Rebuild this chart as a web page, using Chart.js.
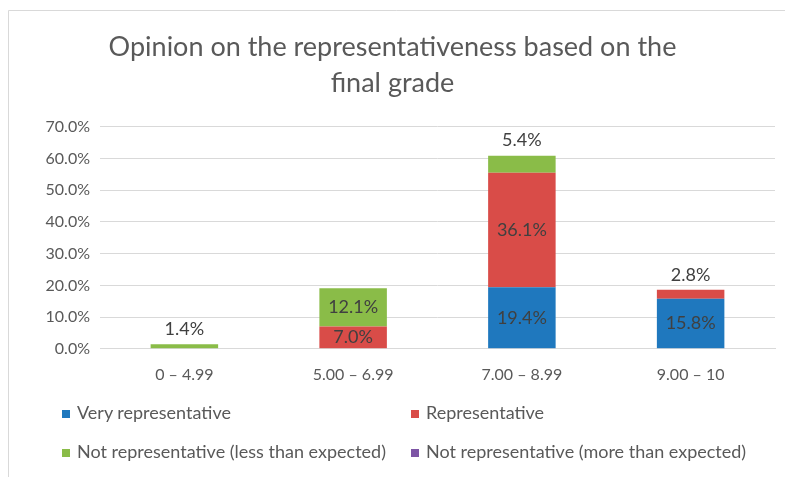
<!DOCTYPE html>
<html>
<head>
<meta charset="utf-8">
<script src="https://cdn.jsdelivr.net/npm/chart.js@4/dist/chart.umd.min.js"></script>
<style>
  html, body { margin: 0; padding: 0; background: #fff; }
  #wrap { position: relative; width: 785px; height: 477px; overflow: hidden; }
  #chart { position: absolute; left: 0; top: 0; }
  .legend { position: absolute; font-family: Lato, sans-serif; font-size: 18px; color: #595959; white-space: nowrap; }
  .legend span.sw { display: inline-block; width: 8px; height: 8px; margin-right: 7px; vertical-align: 1px; }
</style>
</head>
<body>
<div id="wrap">
  <canvas id="chart" width="785" height="477"></canvas>
  <div class="legend" style="left:62px; top:401px;"><span class="sw" style="background:#1f78be"></span>Very representative</div>
  <div class="legend" style="left:411px; top:401px;"><span class="sw" style="background:#d94c48"></span>Representative</div>
  <div class="legend" style="left:62px; top:440px;"><span class="sw" style="background:#8abc48"></span>Not representative (less than expected)</div>
  <div class="legend" style="left:411px; top:440px;"><span class="sw" style="background:#7d55a5"></span>Not representative (more than expected)</div>
</div>
<script>
    // Данные графика
    const categories = ['0 – 4.99', '5.00 – 6.99', '7.00 – 8.99', '9.00 – 10'];
    const seriesNames = [
        'Very representative',
        'Representative',
        'Not representative (less than expected)',
        'Not representative (more than expected)'
    ];
    const veryRepresentative = [0, 0, 19.4, 15.8];
    const representative = [0, 7.0, 36.1, 2.8];
    const notRepLess = [1.4, 12.1, 5.4, 0];
    const notRepMore = [0, 0, 0, 0];
    const yTicks = [0, 10, 20, 30, 40, 50, 60, 70];

    const colors = ['#1f78be', '#d94c48', '#8abc48', '#7d55a5'];

    // Рамка вокруг диаграммы
    const borderPlugin = {
        id: 'frame',
        beforeDraw(chart) {
            const ctx = chart.ctx;
            ctx.save();
            ctx.fillStyle = '#fff';
            ctx.fillRect(0, 0, chart.width, chart.height);
            ctx.strokeStyle = '#d9d9d9';
            ctx.lineWidth = 1;
            ctx.beginPath();
            ctx.moveTo(8.5, chart.height);
            ctx.lineTo(8.5, 10.5);
            ctx.lineTo(chart.width, 10.5);
            ctx.stroke();
            ctx.restore();
        }
    };

    // Подписи значений: внутри столбца, если он достаточно высокий, иначе над стопкой
    const labelPlugin = {
        id: 'valueLabels',
        afterDatasetsDraw(chart) {
            const ctx = chart.ctx;
            const yScale = chart.scales.y;
            ctx.save();
            ctx.font = '18px Lato, sans-serif';
            ctx.fillStyle = '#404040';
            ctx.textAlign = 'center';
            ctx.textBaseline = 'middle';
            chart.data.datasets.forEach((ds, di) => {
                const meta = chart.getDatasetMeta(di);
                meta.data.forEach((bar, i) => {
                    const v = ds.data[i];
                    if (!v) return;
                    if (v >= 6) {
                        ctx.fillText(v.toFixed(1) + '%', bar.x, (bar.y + bar.base) / 2);
                    } else {
                        let total = 0;
                        chart.data.datasets.forEach(d => total += d.data[i]);
                        ctx.fillText(v.toFixed(1) + '%', bar.x, yScale.getPixelForValue(total) - 15);
                    }
                });
            });
            ctx.restore();
        }
    };

    const seriesData = [veryRepresentative, representative, notRepLess, notRepMore];

    new Chart(document.getElementById('chart').getContext('2d'), {
        type: 'bar',
        data: {
            labels: categories,
            datasets: seriesNames.map((name, i) => ({
                label: name,
                data: seriesData[i],
                backgroundColor: colors[i],
                borderWidth: 0,
                categoryPercentage: 1,
                barPercentage: 0.4
            }))
        },
        options: {
            responsive: false,
            animation: false,
            devicePixelRatio: 1,
            layout: { padding: { top: 10, left: 10, right: 10, bottom: 77 } },
            plugins: {
                legend: { display: false },
                tooltip: { enabled: false },
                title: {
                    display: true,
                    text: ['Opinion on the representativeness based on the', 'final grade'],
                    color: '#595959',
                    font: { family: 'Lato, sans-serif', size: 27, weight: 'normal', lineHeight: 1.33 },
                    padding: { top: 19, bottom: 26 }
                }
            },
            scales: {
                x: {
                    stacked: true,
                    grid: { display: false, drawTicks: false },
                    border: { display: true, color: '#d9d9d9' },
                    ticks: { color: '#595959', font: { family: 'Lato, sans-serif', size: 16 }, padding: 16 }
                },
                y: {
                    stacked: true,
                    min: 0,
                    max: 70,
                    afterFit(scale) { scale.width = 90; },
                    afterBuildTicks(scale) { scale.ticks = yTicks.map(v => ({ value: v })); },
                    grid: { color: '#d9d9d9', drawTicks: false },
                    border: { display: false },
                    ticks: {
                        color: '#595959',
                        font: { family: 'Lato, sans-serif', size: 16 },
                        padding: 10,
                        callback: v => v.toFixed(1) + '%'
                    }
                }
            }
        },
        plugins: [borderPlugin, labelPlugin]
    });
</script>
</body>
</html>
